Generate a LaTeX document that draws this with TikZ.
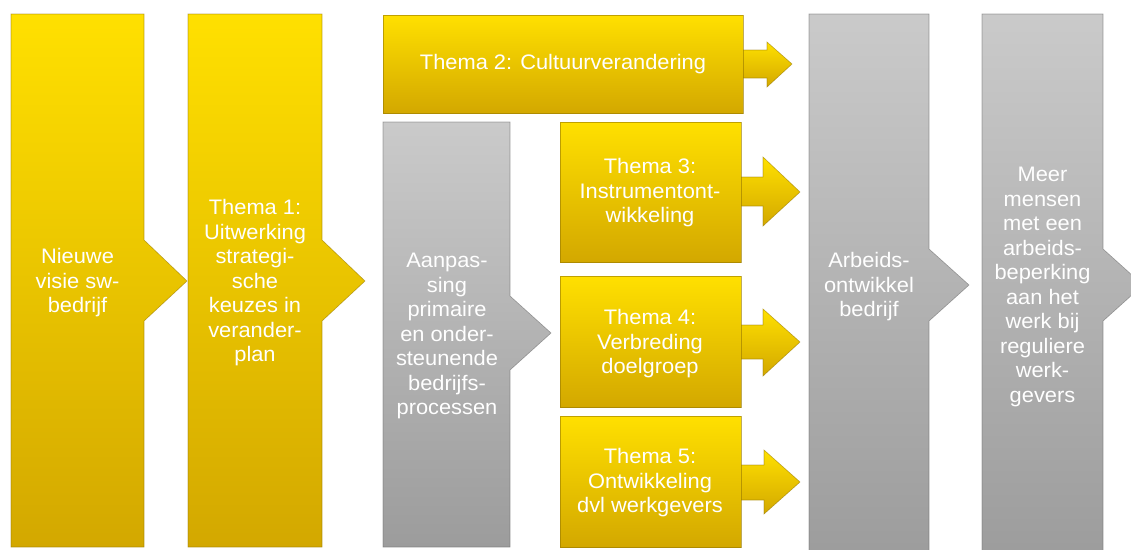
\documentclass[tikz,border=0pt]{standalone}
\usepackage{fontspec}
\setmainfont{Liberation Sans}[FakeStretch=1.04]
\definecolor{gTop}{RGB}{255,224,0}
\definecolor{gBot}{RGB}{211,168,0}
\definecolor{gEdge}{RGB}{150,120,0}
\definecolor{sTop}{RGB}{202,202,202}
\definecolor{sBot}{RGB}{156,156,156}
\definecolor{sEdge}{RGB}{110,110,110}
\tikzset{
  goldshape/.style={top color=gTop, bottom color=gBot, draw=gEdge, draw opacity=0.6, line width=0.6pt, line join=miter},
  grayshape/.style={top color=sTop, bottom color=sBot, draw=sEdge, draw opacity=0.6, line width=0.6pt, line join=miter},
  lbl/.style={text=white, align=center, inner sep=0pt, font=\fontsize{21}{24.5}\selectfont},
}
\begin{document}
\begin{tikzpicture}[x=1pt,y=-1pt]
\useasboundingbox (0,0) rectangle (1131,549);
\clip (0,0) rectangle (1131,549);
% big column boxes with chevrons
\path[goldshape] (11,14) -- (144,14) -- (144,240) -- (187,281) -- (144,321) -- (144,547) -- (11,547) -- cycle;
\path[goldshape] (188,14) -- (322,14) -- (322,240) -- (365,281) -- (322,321) -- (322,547) -- (188,547) -- cycle;
\path[grayshape] (383,122) -- (510,122) -- (510,296) -- (551,333) -- (510,370) -- (510,547) -- (383,547) -- cycle;
\path[grayshape] (809,14) -- (929,14) -- (929,249) -- (969,285) -- (929,321) -- (929,560) -- (809,560) -- cycle;
\path[grayshape] (982,14) -- (1103,14) -- (1103,249) -- (1143,285) -- (1103,321) -- (1103,560) -- (982,560) -- cycle;
% theme block arrows
\path[goldshape] (742,50) -- (767,50) -- (767,42) -- (792,64) -- (767,87) -- (767,78) -- (742,78);
\path[goldshape] (383,15) rectangle (743,113);
\path[goldshape] (740,177) -- (763,177) -- (763,157) -- (800,192) -- (763,226) -- (763,206) -- (740,206);
\path[goldshape] (560,122) rectangle (741,262);
\path[goldshape] (740,325) -- (763,325) -- (763,309) -- (800,342) -- (763,376) -- (763,359) -- (740,359);
\path[goldshape] (560,276) rectangle (741,407);
\path[goldshape] (740,465) -- (764,465) -- (764,450) -- (800,482) -- (764,514) -- (764,500) -- (740,500);
\path[goldshape] (560,416) rectangle (741,547);
% labels
\node[lbl] (visie) at (77.5,283) {Nieuwe\\visie sw-\\bedrijf};
\node[lbl] (thema1) at (255,283) {Thema 1:\\Uitwerking\\strategi-\\sche\\keuzes in\\verander-\\plan};
\node[lbl] (thema2) at (563,64) {Thema 2: Cultuurverandering};
\node[lbl] (aanpassing) at (447,336) {Aanpas-\\sing\\primaire\\en onder-\\steunende\\bedrijfs-\\processen};
\node[lbl] (thema3) at (650,193) {Thema 3:\\Instrumentont-\\wikkeling};
\node[lbl] (thema4) at (650,344) {Thema 4:\\Verbreding\\doelgroep};
\node[lbl] (thema5) at (650,483) {Thema 5:\\Ontwikkeling\\dvl werkgevers};
\node[lbl] (arbeids) at (869,287) {Arbeids-\\ontwikkel\\bedrijf};
\node[lbl] (meer) at (1042.5,287) {Meer\\mensen\\met een\\arbeids-\\beperking\\aan het\\werk bij\\reguliere\\werk-\\gevers};
\end{tikzpicture}
\end{document}
